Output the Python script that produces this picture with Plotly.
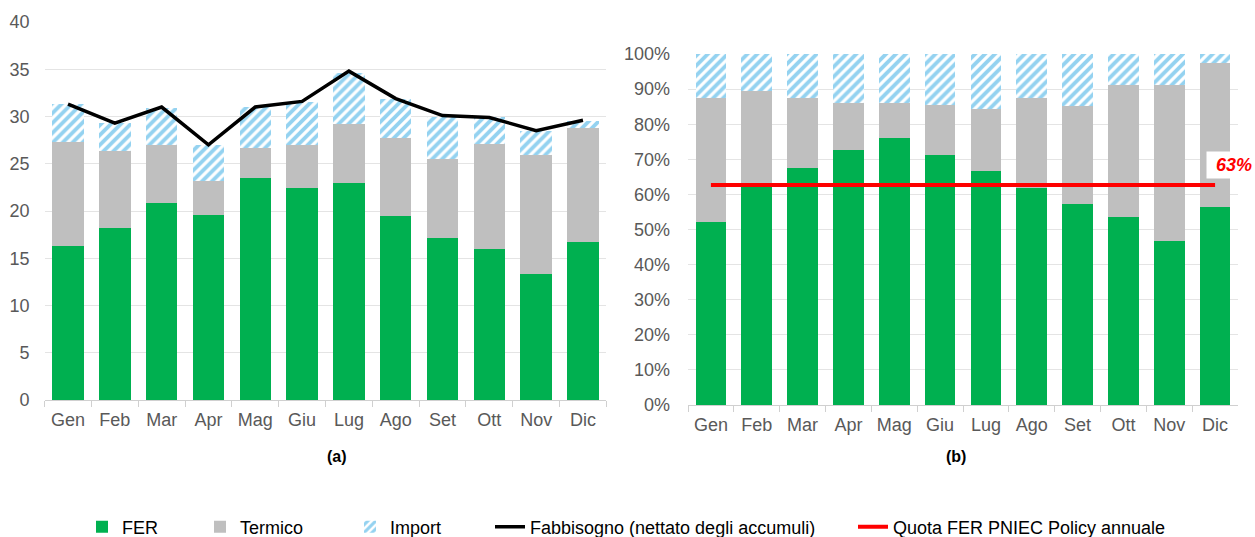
import plotly.graph_objects as go

months = ["Gen", "Feb", "Mar", "Apr", "Mag", "Giu", "Lug", "Ago", "Set", "Ott", "Nov", "Dic"]

# (a) absolute values
fer_abs = [16.3, 18.2, 20.8, 19.6, 23.5, 22.4, 23.0, 19.5, 17.1, 16.0, 13.3, 16.7]
termico_abs = [11.0, 8.1, 6.2, 3.6, 3.2, 4.6, 6.2, 8.2, 8.4, 11.1, 12.6, 12.1]
import_abs = [4.0, 3.0, 3.9, 3.8, 4.3, 4.5, 5.4, 4.1, 4.5, 2.8, 2.6, 0.7]
fabbisogno = [31.3, 29.3, 31.0, 27.0, 31.0, 31.6, 34.8, 31.9, 30.1, 29.9, 28.5, 29.6]

# (b) shares (%)
fer_pct = [52.1, 62.5, 67.4, 72.6, 76.2, 71.1, 66.8, 61.7, 57.2, 53.6, 46.7, 56.5]
termico_pct = [35.3, 27.0, 20.0, 13.5, 9.9, 14.4, 17.5, 25.7, 28.0, 37.6, 44.5, 41.0]
import_pct = [12.6, 10.5, 12.6, 13.9, 13.9, 14.5, 15.7, 12.6, 14.8, 8.8, 8.8, 2.5]
quota_fer = [62.7] * 12
quota_label = "63%"

GREEN = "#00B050"
GREY = "#BFBFBF"
BLUE = "#2AA6E2"
FONT = "Liberation Sans, Arial, sans-serif"
TICK = "#595959"
GRID = "#E4E4E4"
AXIS = "#D0D0D0"

# the page body margin is removed (see write_html below), so the figure fills the window
OFF = 0
W, H = 1255, 537

fig = go.Figure()

def pattern():
    return dict(shape="/", fgcolor=BLUE, bgcolor="white", size=7, solidity=0.55, fillmode="overlay")

# Left chart
fig.add_trace(go.Bar(x=months, y=fer_abs, name="FER", marker=dict(color=GREEN, line=dict(width=0)),
                     xaxis="x", yaxis="y", legend="legend"))
fig.add_trace(go.Bar(x=months, y=termico_abs, name="Termico", marker=dict(color=GREY, line=dict(width=0)),
                     xaxis="x", yaxis="y", legend="legend2"))
fig.add_trace(go.Bar(x=months, y=import_abs, name="Import",
                     marker=dict(color="white", line=dict(width=0), pattern=pattern()),
                     xaxis="x", yaxis="y", legend="legend3"))
fig.add_trace(go.Scatter(x=months, y=fabbisogno, name="Fabbisogno (nettato degli accumuli)", mode="lines",
                         line=dict(color="black", width=3.5), xaxis="x", yaxis="y", legend="legend4"))

# Right chart
fig.add_trace(go.Bar(x=months, y=fer_pct, name="FER", marker=dict(color=GREEN, line=dict(width=0)),
                     xaxis="x2", yaxis="y2", showlegend=False))
fig.add_trace(go.Bar(x=months, y=termico_pct, name="Termico", marker=dict(color=GREY, line=dict(width=0)),
                     xaxis="x2", yaxis="y2", showlegend=False))
fig.add_trace(go.Bar(x=months, y=import_pct, name="Import",
                     marker=dict(color="white", line=dict(width=0), pattern=pattern()),
                     xaxis="x2", yaxis="y2", showlegend=False))
fig.add_trace(go.Scatter(x=months, y=quota_fer, name="Quota FER PNIEC Policy annuale", mode="lines",
                         line=dict(color="#FF0000", width=4), xaxis="x2", yaxis="y2", legend="legend5"))

def px_x(p):
    return (p - OFF) / W

def px_y(p):
    return 1 - (p - OFF) / H

xrange = [-0.5, len(months) - 0.5]
xcommon = dict(type="category", range=xrange, autorange=False, showline=True, linecolor=AXIS, linewidth=1,
               ticks="outside", tickson="boundaries", ticklen=6, tickcolor=AXIS, showgrid=False, tickangle=0,
               tickfont=dict(family=FONT, size=18, color=TICK), ticklabelstandoff=3, automargin=False)
ycommon = dict(showgrid=True, gridcolor=GRID, gridwidth=1, zeroline=False, showline=False, ticks="",
               tickfont=dict(family=FONT, size=18, color=TICK), automargin=False)

leg_y = px_y(527)
def legend_at(xpx):
    return dict(x=px_x(xpx), y=leg_y, xanchor="left", yanchor="middle", orientation="h",
                font=dict(family=FONT, size=18, color="black"), bgcolor="rgba(0,0,0,0)",
                itemwidth=30)

fig.update_layout(
    width=W, height=H,
    margin=dict(l=0, r=0, t=0, b=0, autoexpand=False),
    paper_bgcolor="white", plot_bgcolor="white",
    barmode="stack",
    bargap=0.33,
    font=dict(family=FONT),
    xaxis=dict(domain=[px_x(44.6), px_x(606.4)], anchor="y", **xcommon),
    yaxis=dict(domain=[px_y(400), px_y(22)], anchor="x", range=[0, 40], dtick=5,
               ticklabelstandoff=14, **ycommon),
    xaxis2=dict(domain=[px_x(688), px_x(1238)], anchor="y2", **xcommon),
    yaxis2=dict(domain=[px_y(405), px_y(54)], anchor="x2", range=[0, 100], dtick=10,
                ticksuffix="%", ticklabelstandoff=17, **ycommon),
    legend=legend_at(82),
    legend2=legend_at(200),
    legend3=legend_at(350),
    legend4=legend_at(490),
    legend5=legend_at(853),
    annotations=[
        dict(text="<b>(a)</b>", x=px_x(325), y=px_y(467), xref="paper", yref="paper",
             showarrow=False, font=dict(family=FONT, size=16, color="black")),
        dict(text="<b>(b)</b>", x=px_x(968), y=px_y(467), xref="paper", yref="paper",
             showarrow=False, font=dict(family=FONT, size=16, color="black")),
        dict(text="<b><i>" + quota_label + "</i></b>", x="Dic", y=quota_fer[-1], xref="x2", yref="y2",
             xanchor="left", yanchor="middle", xshift=-9, yshift=20, showarrow=False,
             width=42, align="right", bgcolor="white", borderpad=3,
             font=dict(family=FONT, size=18, color="#FF0000")),
    ],
)

fig.write_html("out.html", config={"displayModeBar": False},
               post_script="document.body.style.margin='0';document.body.style.overflow='hidden';")
